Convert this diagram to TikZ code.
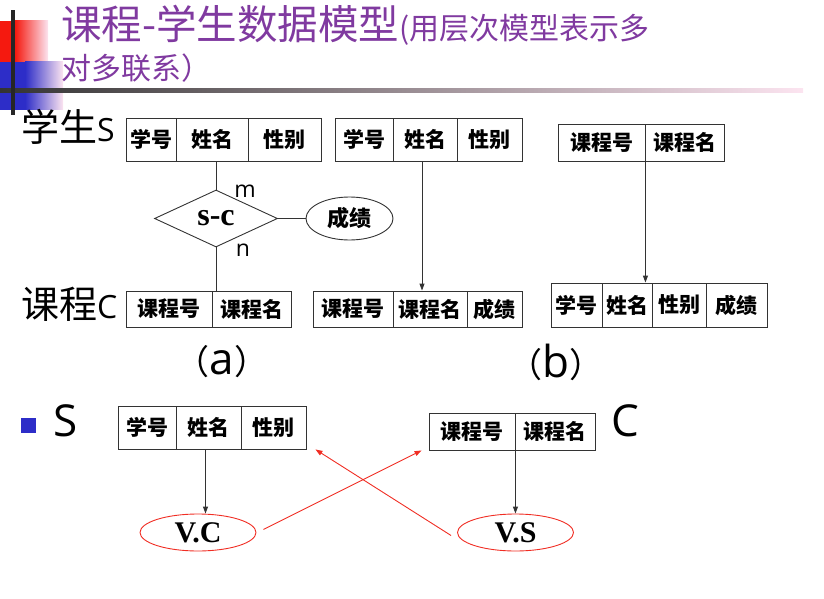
\documentclass[tikz,border=0pt]{standalone}
\usepackage{fontspec}
\newfontfamily\cjk{Noto Sans CJK SC}
\newfontfamily\latinsans{Open Sans}
\newfontfamily\latinserif{Liberation Serif}
\usetikzlibrary{shapes.geometric}
\usetikzlibrary{arrows.meta}
\definecolor{titlepurple}{RGB}{128,58,160}
\definecolor{slidered}{RGB}{245,25,15}
\definecolor{slideblue}{RGB}{45,45,200}
\definecolor{slidepink}{RGB}{252,228,240}
\definecolor{linered}{RGB}{240,45,35}
\newcommand{\celltext}{\cjk\bfseries\fontsize{21}{21}\selectfont}
\newcommand{\lw}{0.9pt}

\begin{document}
\begin{tikzpicture}[x=1pt,y=-1pt]
                \useasboundingbox (0,0) rectangle (824,599);

                % slide decoration
                \fill[slidered] (0,21) rectangle (15,62);
                \shade[left color=slidered,right color=slidepink] (15,21) rectangle (48,62);
                \fill[slideblue] (0,62) rectangle (25,110);
                \shade[left color=slideblue,right color=slidepink] (25,62) rectangle (63,110);
                \shade[left color=black!80,right color=slidepink] (0,89) rectangle (803,93);
                \fill[black!85] (11,10) rectangle (15,115);

                % title
                \begin{scope}[every node/.style={anchor=west,inner sep=0,text=titlepurple}]
                    \node (title1) at (61,25) {\cjk\fontsize{40.5}{40.5}\selectfont 课程-学生数据模型\fontsize{30}{30}\selectfont(用层次模型表示多};
                    \node (title2) at (61,68) {\cjk\fontsize{30}{30}\selectfont 对多联系）};
                \end{scope}

                % side labels
                \begin{scope}[every node/.style={anchor=west,inner sep=0}]
                    \node (slabel) at (21,127) {\cjk\fontsize{38}{38}\selectfont 学生\latinsans\fontsize{32}{32}\selectfont S};
                    \node (clabel) at (21,304) {\cjk\fontsize{38}{38}\selectfont 课程\latinsans\fontsize{32}{32}\selectfont C};
                \end{scope}

                % tables
                \begin{scope}[every node/.style={rectangle,draw=black!80,line width=\lw,inner sep=0,font=\celltext}]
                    \node[minimum width=50pt,minimum height=43pt] (sa1) at (151,139.5) {学号};
                    \node[minimum width=72pt,minimum height=43pt] (sa2) at (212,139.5) {姓名};
                    \node[minimum width=73pt,minimum height=43pt] (sa3) at (284.5,139.5) {性别};

                    \node[minimum width=86pt,minimum height=36pt] (ca1) at (169,309) {课程号};
                    \node[minimum width=79pt,minimum height=36pt] (ca2) at (251.5,309) {课程名};

                    \node[minimum width=58pt,minimum height=43pt] (sb1) at (364,139.5) {学号};
                    \node[minimum width=64pt,minimum height=43pt] (sb2) at (425,139.5) {姓名};
                    \node[minimum width=65pt,minimum height=43pt] (sb3) at (489.5,139.5) {性别};

                    \node[minimum width=80pt,minimum height=36pt] (csb1) at (353,309) {课程号};
                    \node[minimum width=74pt,minimum height=36pt] (csb2) at (430,309) {课程名};
                    \node[minimum width=55pt,minimum height=36pt] (csb3) at (494.5,309) {成绩};

                    \node[minimum width=87pt,minimum height=37pt] (cb1) at (601.5,142.5) {课程号};
                    \node[minimum width=79pt,minimum height=37pt] (cb2) at (684.5,142.5) {课程名};

                    \node[minimum width=51pt,minimum height=44pt] (scb1) at (576.5,305) {学号};
                    \node[minimum width=50pt,minimum height=44pt] (scb2) at (627,305) {姓名};
                    \node[minimum width=54pt,minimum height=44pt] (scb3) at (679,305) {性别};
                    \node[minimum width=61pt,minimum height=44pt] (scb4) at (736.5,305) {成绩};

                    \node[minimum width=58pt,minimum height=43pt] (s21) at (147,427.5) {学号};
                    \node[minimum width=65pt,minimum height=43pt] (s22) at (208.5,427.5) {姓名};
                    \node[minimum width=65pt,minimum height=43pt] (s23) at (273.5,427.5) {性别};

                    \node[minimum width=86pt,minimum height=37pt] (c21) at (472,431.5) {课程号};
                    \node[minimum width=80pt,minimum height=37pt] (c22) at (555,431.5) {课程名};
                \end{scope}

                % E-R part
                \node[diamond,draw=black!80,line width=\lw,aspect=2.2,minimum width=123pt,minimum height=57pt,inner sep=0,
                    font=\latinserif\bfseries\fontsize{32}{32}\selectfont] (sc) at (216,218.5) {s-c};
                \node[ellipse,draw=black!80,line width=\lw,minimum width=87pt,minimum height=43pt,inner sep=0,
                    font=\cjk\bfseries\fontsize{22}{22}\selectfont] (cj) at (349.5,218.5) {成绩};
                \node[font=\latinsans\fontsize{23}{23}\selectfont] (m) at (245,191) {m};
                \node[font=\latinsans\fontsize{23}{23}\selectfont] (n) at (243,250) {n};

                % part labels
                \node[font=\cjk\fontsize{34}{34}\selectfont] (parta) at (222,362) {（\latinsans\fontsize{44}{44}\selectfont a\cjk\fontsize{34}{34}\selectfont ）};
                \node[font=\cjk\fontsize{34}{34}\selectfont] (partb) at (556,362) {（\latinsans\fontsize{44}{44}\selectfont b\cjk\fontsize{34}{34}\selectfont ）};

                % lower part
                \node[fill=slideblue,minimum size=15pt,inner sep=0] (bullet) at (28.5,425.5) {};
                \node[font=\latinsans\fontsize{44}{44}\selectfont] (sbig) at (66,421) {S};
                \node[font=\latinsans\fontsize{44}{44}\selectfont] (cbig) at (625,421) {C};
                \begin{scope}[every node/.style={ellipse,draw=linered,line width=\lw,minimum width=116pt,minimum height=37pt,inner sep=0,
                    font=\latinserif\bfseries\fontsize{30}{30}\selectfont}]
                    \node (vc) at (198,532.5) {V.C};
                    \node (vs) at (515.5,532.5) {V.S};
                \end{scope}

                % connectors
                \begin{scope}[>={Triangle[length=7pt,width=5pt]},
                    every edge/.style={draw=black!80,line width=\lw}]
                    \path (sc.north |- sa2.south) edge (sc.north);
                    \path (sc.south) edge (sc.south |- ca1.north);
                    \path (sc.east) edge (cj.west);
                    \path [->] ([xshift=-3pt]sb2.south) edge ([xshift=-3pt]sb2.south |- csb2.north);
                    \path [->] (cb1.south east) edge (cb1.south east |- scb2.north);
                    \path [->] ([xshift=-3pt]s22.south) edge ([xshift=-3pt]s22.south |- vc.north);
                    \path [->] (c21.south east) edge (c21.south east |- vs.north);
                \end{scope}
                \begin{scope}[>={Triangle[length=7pt,width=5pt]},
                    every edge/.style={draw=linered,line width=\lw}]
                    \path [->] ([xshift=7pt,yshift=3pt]vc.east) edge ([xshift=-7pt]c21.south west);
                    \path [->] ([xshift=-6pt,yshift=-3pt]vs.west) edge ([xshift=9pt]s23.south east);
                \end{scope}
            \end{tikzpicture}
\end{document}
